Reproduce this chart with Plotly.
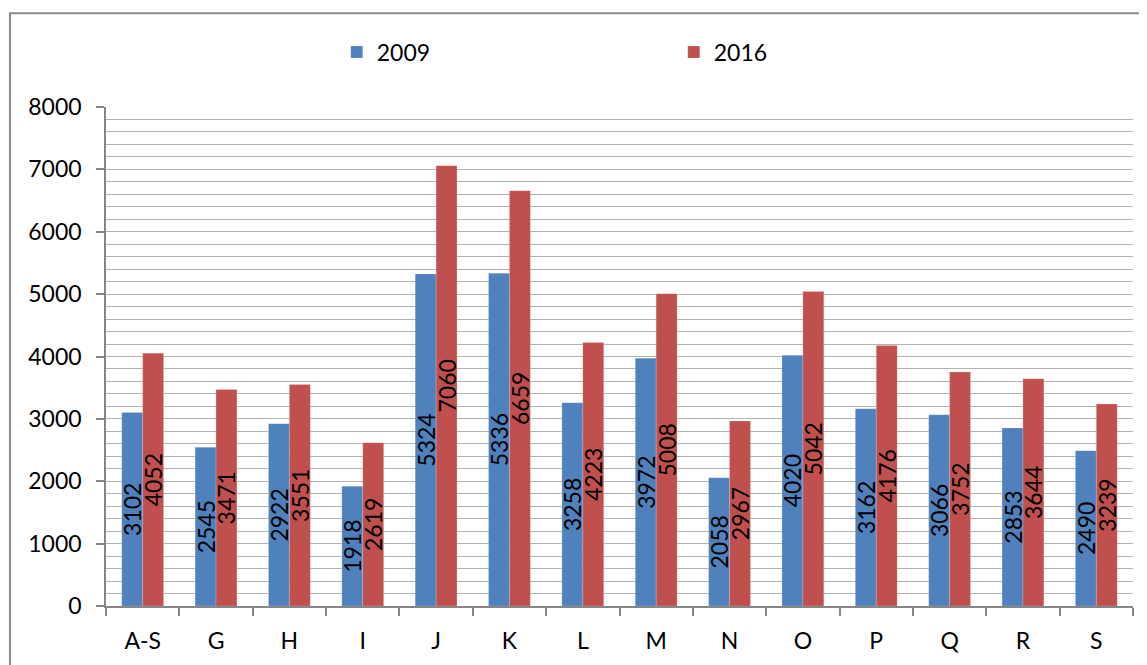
import plotly.graph_objects as go

categories = ["A-S", "G", "H", "I", "J", "K", "L", "M", "N", "O", "P", "Q", "R", "S"]
values_2009 = [3102, 2545, 2922, 1918, 5324, 5336, 3258, 3972, 2058, 4020, 3162, 3066, 2853, 2490]
values_2016 = [4052, 3471, 3551, 2619, 7060, 6659, 4223, 5008, 2967, 5042, 4176, 3752, 3644, 3239]
series_names = ["2009", "2016"]
y_tick_vals = [0, 1000, 2000, 3000, 4000, 5000, 6000, 7000, 8000]

FONT = "Lato, Carlito, Calibri, sans-serif"
FS = 23

fig = go.Figure()
for name, vals, color in [(series_names[0], values_2009, "#4F81BD"),
                          (series_names[1], values_2016, "#C0504D")]:
    fig.add_trace(go.Bar(
        x=categories, y=vals, name=name,
        marker=dict(color=color, line=dict(color="rgba(255,255,255,0.35)", width=0.5)),
        text=[str(v) for v in vals],
        textposition="inside", insidetextanchor="middle", textangle=-90,
        textfont=dict(family=FONT, size=FS, color="black"),
        cliponaxis=False,
    ))

fig.update_layout(
    width=1139, height=657,
    margin=dict(l=98, r=14, t=99, b=59, autoexpand=False),
    paper_bgcolor="white", plot_bgcolor="white",
    barmode="group", bargap=0.43, bargroupgap=0,
    font=dict(family=FONT, size=FS, color="black"),
    uniformtext=dict(minsize=FS, mode="show"),
    legend=dict(orientation="h", x=0.2247, y=1.11, xanchor="left", yanchor="middle",
                entrywidth=292, entrywidthmode="pixels",
                font=dict(family=FONT, size=FS, color="black"),
                bgcolor="rgba(0,0,0,0)"),
    showlegend=True,
)

fig.update_yaxes(
    range=[0, 8000], tickvals=y_tick_vals,
    showgrid=True, gridcolor="#b3b3b3", gridwidth=1.2,
    minor=dict(dtick=200, showgrid=True, gridcolor="#b3b3b3", gridwidth=1.2),
    showline=True, linecolor="#868686", linewidth=1.5,
    ticks="outside", ticklen=8, tickcolor="#868686", tickwidth=1.5,
    ticklabelstandoff=10, zeroline=False, automargin=False,
)
fig.update_xaxes(
    type="category", showgrid=False,
    showline=True, linecolor="#868686", linewidth=1.5,
    ticks="outside", ticklen=8, tickcolor="#868686", tickwidth=1.5,
    tickson="boundaries", ticklabelstandoff=14, automargin=False,
)

fig.add_shape(type="rect", xref="paper", yref="paper",
              x0=-0.0935, y0=-0.2, x1=1.05, y1=1.188,
              line=dict(color="#8a8a8a", width=2), layer="below")

fig.write_html("out.html")
